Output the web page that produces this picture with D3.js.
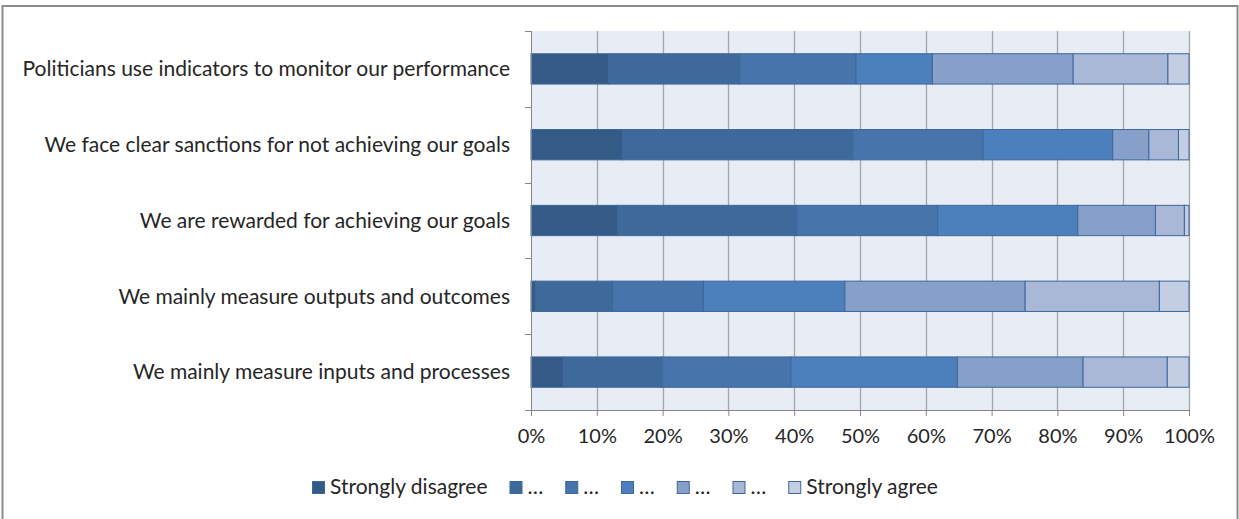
<!DOCTYPE html>
<html>
<head>
<meta charset="utf-8">
<script src="https://cdn.jsdelivr.net/npm/d3@7"></script>
<style>
  html, body { margin: 0; padding: 0; background: #ffffff; }
  svg { display: block; }
  text { font-family: Lato, "Open Sans", sans-serif; fill: #262626; }
</style>
</head>
<body>
<svg id="chart" width="1239" height="519"></svg>
<script>
// Categories (top to bottom)
const categories = [
  "Politicians use indicators to monitor our performance",
  "We face clear sanctions for not achieving our goals",
  "We are rewarded for achieving our goals",
  "We mainly measure outputs and outcomes",
  "We mainly measure inputs and processes"
];
// Series names (legend)
const seriesNames = ["Strongly disagree", "…", "…", "…", "…", "…", "Strongly agree"];
// Shares (%) per category for each answer level
const s1 = [11.8, 13.9, 13.2, 0.7, 4.9];
const s2 = [19.9, 35.0, 27.2, 11.7, 15.0];
const s3 = [17.7, 19.8, 21.4, 13.8, 19.6];
const s4 = [11.6, 19.7, 21.3, 21.5, 25.3];
const s5 = [21.4, 5.5, 11.8, 27.4, 19.1];
const s6 = [14.4, 4.5, 4.4, 20.4, 12.8];
const s7 = [3.2, 1.6, 0.7, 4.5, 3.3];
const seriesValues = [s1, s2, s3, s4, s5, s6, s7];
const tickValues = [0, 0.1, 0.2, 0.3, 0.4, 0.5, 0.6, 0.7, 0.8, 0.9, 1.0];

const colors = ["#345a86", "#3e6a9b", "#4674ab", "#4c80bc", "#86a0ca", "#a9b8d7", "#c4cee3"];

const svg = d3.select("#chart");

// Outer chart border
svg.append("rect")
  .attr("x", 2.5).attr("y", 6).attr("width", 1235).attr("height", 520)
  .attr("fill", "#ffffff").attr("stroke", "#8c8c8c").attr("stroke-width", 2);

const plot = { left: 531, right: 1189, top: 31, bottom: 410 };

// Build normalized stacked data
const rows = categories.map((c, i) => {
  const vals = seriesValues.map(s => s[i]);
  const total = d3.sum(vals);
  const row = { category: c };
  vals.forEach((v, k) => row["k" + k] = v / total);
  return row;
});
const keys = seriesNames.map((_, k) => "k" + k);
const stacked = d3.stack().keys(keys)(rows);

const x = d3.scaleLinear().domain([0, 1]).range([plot.left, plot.right]);
const y = d3.scaleBand().domain(categories).range([plot.top, plot.bottom]).paddingInner(0.6).paddingOuter(0.3);

// Plot background
svg.append("rect")
  .attr("x", plot.left).attr("y", plot.top)
  .attr("width", plot.right - plot.left).attr("height", plot.bottom - plot.top)
  .attr("fill", "#e8ecf4");

// Vertical gridlines
svg.append("g").selectAll("line")
  .data(tickValues.slice(1))
  .join("line")
  .attr("x1", d => Math.round(x(d)) + 0.5).attr("x2", d => Math.round(x(d)) + 0.5)
  .attr("y1", plot.top).attr("y2", plot.bottom)
  .attr("stroke", "#a6a6a6").attr("stroke-width", 1.3);

// Bars
svg.append("g").selectAll("g")
  .data(stacked)
  .join("g")
  .attr("fill", (d, i) => colors[i])
  .selectAll("rect")
  .data(d => d)
  .join("rect")
  .attr("x", d => x(d[0]))
  .attr("y", d => y(d.data.category))
  .attr("width", d => Math.max(0, x(d[1]) - x(d[0])))
  .attr("height", y.bandwidth())
  .attr("stroke", "#3d679c")
  .attr("stroke-width", 1);

// X axis
const xAxis = d3.axisBottom(x).tickValues(tickValues).tickFormat(d3.format(".0%")).tickSize(6).tickPadding(13);
const gx = svg.append("g").attr("transform", `translate(0,${plot.bottom})`).call(xAxis);
gx.select(".domain").attr("stroke", "#868686");
gx.selectAll(".tick line").attr("stroke", "#868686");
gx.selectAll(".tick text").attr("font-size", 20).attr("fill", "#262626")
  .attr("font-family", "Lato, 'Open Sans', sans-serif");

// Y axis: ticks at band boundaries
const gy = svg.append("g");
gy.append("line")
  .attr("x1", plot.left + 0.5).attr("x2", plot.left + 0.5)
  .attr("y1", plot.top).attr("y2", plot.bottom + 6)
  .attr("stroke", "#868686");
const step = (plot.bottom - plot.top) / categories.length;
gy.selectAll("line.tk")
  .data(d3.range(categories.length + 1))
  .join("line").attr("class", "tk")
  .attr("x1", plot.left - 6).attr("x2", plot.left)
  .attr("y1", d => Math.round(plot.top + d * step) + 0.5)
  .attr("y2", d => Math.round(plot.top + d * step) + 0.5)
  .attr("stroke", "#868686");
gy.selectAll("text.cat")
  .data(categories)
  .join("text").attr("class", "cat")
  .attr("x", 510)
  .attr("y", d => y(d) + y.bandwidth() / 2)
  .attr("dy", "0.35em")
  .attr("text-anchor", "end")
  .attr("font-size", 21)
  .text(d => d);

// Legend
const legend = svg.append("g");
let lx = 0;
seriesNames.forEach((name, i) => {
  const g = legend.append("g");
  g.append("rect").attr("x", lx + 0.5).attr("y", -5.5).attr("width", 12).attr("height", 12)
    .attr("fill", colors[i]).attr("stroke", "#3d679c").attr("stroke-width", 1);
  const t = g.append("text").attr("x", lx + 18).attr("y", 0).attr("dy", "0.35em")
    .attr("font-size", 21).text(name);
  const w = t.node().getComputedTextLength();
  lx += 18 + w + 22;
});
const totalW = lx - 22;
legend.attr("transform", `translate(${Math.round(625 - totalW / 2)},487)`);
</script>
</body>
</html>
